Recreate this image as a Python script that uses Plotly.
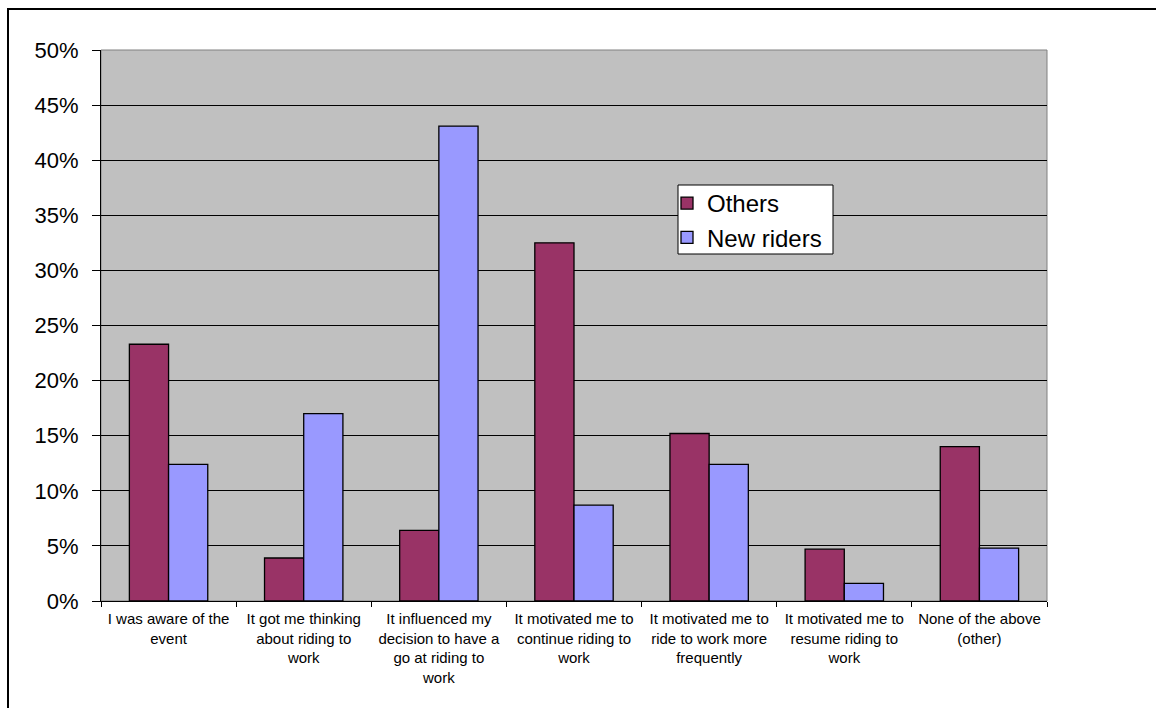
import plotly.graph_objects as go

# Survey responses: share of respondents choosing each statement
categories = [
    "I was aware of the<br>event",
    "It got me thinking<br>about riding to<br>work",
    "It influenced my<br>decision to have a<br>go at riding to<br>work",
    "It motivated me to<br>continue riding to<br>work",
    "It motivated me to<br>ride to work more<br>frequently",
    "It motivated me to<br>resume riding to<br>work",
    "None of the above<br>(other)",
]
others = [23.3, 3.9, 6.4, 32.5, 15.2, 4.7, 14.0]
new_riders = [12.4, 17.0, 43.1, 8.7, 12.4, 1.6, 4.8]
y_ticks = [0, 5, 10, 15, 20, 25, 30, 35, 40, 45, 50]
y_tick_text = [f"{v}%" for v in y_ticks]

FONT = "Arial, Liberation Sans, sans-serif"

fig = go.Figure()
fig.add_trace(go.Bar(
    name="Others", x=categories, y=others,
    marker=dict(color="#993366", line=dict(color="black", width=1.3)),
))
fig.add_trace(go.Bar(
    name="New riders", x=categories, y=new_riders,
    marker=dict(color="#9999FF", line=dict(color="black", width=1.3)),
))

L, R, T, B = 101, 109, 50, 107
W, H = 1156, 708
pw, ph = W - L - R, H - T - B

def px_x(v):
    return (v - L) / pw

def px_y(v):
    return (H - B - v) / ph

fig.update_layout(
    width=W, height=H,
    margin=dict(l=L, r=R, t=T, b=B, pad=0),
    paper_bgcolor="white",
    plot_bgcolor="#C0C0C0",
    barmode="group",
    bargap=0.42,
    bargroupgap=0,
    font=dict(family=FONT, color="black"),
    legend=dict(
        x=px_x(667), y=px_y(181), xanchor="left", yanchor="top",
        bgcolor="rgba(0,0,0,0)", borderwidth=0,
        font=dict(size=24, family=FONT),
        itemwidth=30,
    ),
    xaxis=dict(
        type="category",
        showline=True, linecolor="black", linewidth=1,
        ticks="outside", tickson="boundaries", ticklen=5, tickcolor="black",
        tickfont=dict(size=15, family=FONT),
        ticklabelstandoff=4,
        showgrid=False,
        tickangle=0,
    ),
    yaxis=dict(
        range=[0, 50],
        tickvals=y_ticks,
        ticktext=y_tick_text,
        showline=True, linecolor="black", linewidth=1,
        ticks="outside", ticklen=8, tickcolor="black",
        tickfont=dict(size=22, family=FONT),
        ticklabelstandoff=9,
        showgrid=True, gridcolor="black", gridwidth=1,
        zeroline=False,
    ),
    shapes=[
        # gray frame of the plotting area
        dict(type="rect", xref="paper", yref="paper", x0=0, x1=1, y0=0, y1=1,
             line=dict(color="#808080", width=1), layer="below"),
        # legend box
        dict(type="rect", xref="paper", yref="paper",
             x0=px_x(678), x1=px_x(833), y0=px_y(254), y1=px_y(185),
             fillcolor="white", line=dict(color="black", width=1), layer="above"),
        # outer chart frame
        dict(type="rect", xref="paper", yref="paper",
             x0=px_x(8), x1=px_x(1170), y0=px_y(720), y1=px_y(9),
             line=dict(color="black", width=2)),
    ],
)

fig.write_html("out.html")
